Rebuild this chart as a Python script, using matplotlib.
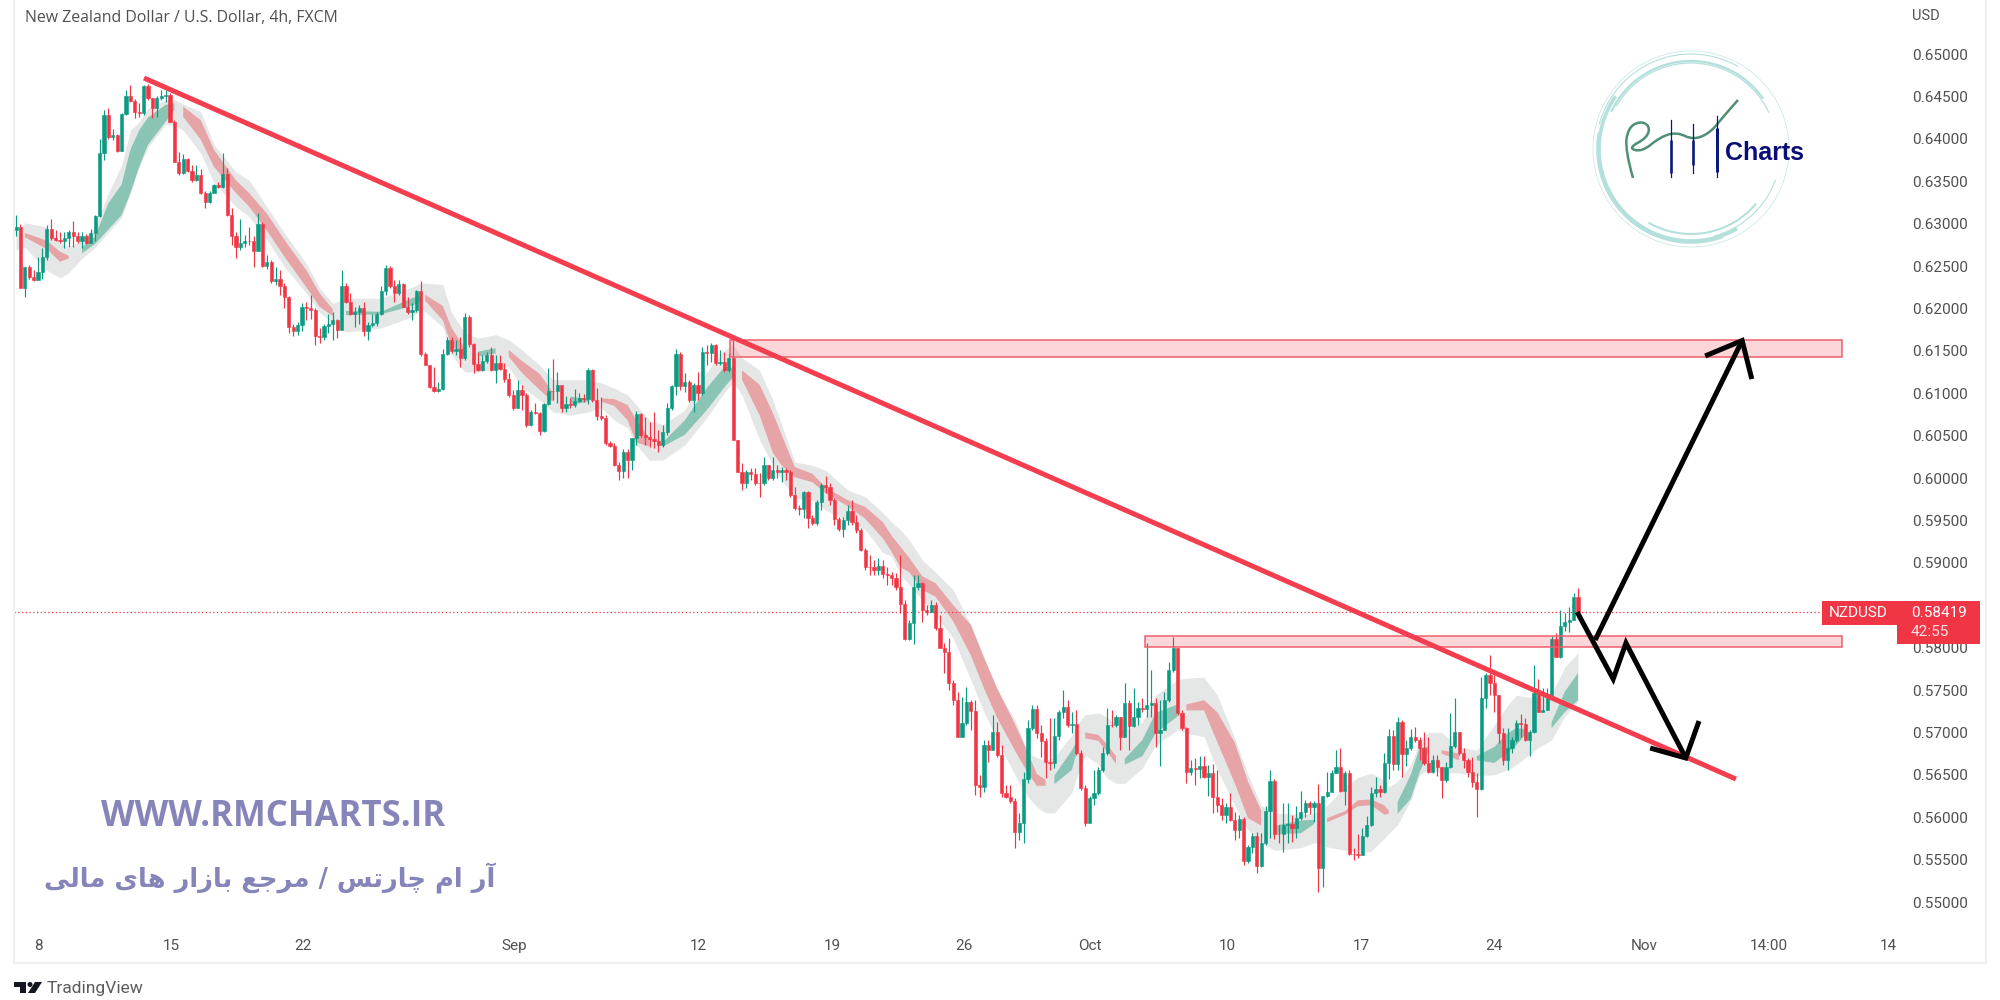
import numpy as np
import matplotlib
matplotlib.use("Agg")
import matplotlib.pyplot as plt
from matplotlib.patches import Rectangle, Arc, Polygon, PathPatch
from matplotlib.path import Path

# fiyatlar pip cinsinden (0.6296 -> 6296), 4 saatlik barlar
close_pips = [
    6296,6224,6249,6237,6233,6243,6261,6294,6283,6281, 6280,6283,6290,6285,6279,6285,6277,6289,6309,6383,
    6428,6402,6405,6386,6429,6451,6445,6432,6430,6462, 6448,6436,6448,6450,6452,6420,6373,6360,6376,6362,
    6351,6357,6336,6325,6336,6345,6343,6359,6310,6285, 6273,6277,6280,6279,6268,6300,6250,6255,6232,6235,
    6226,6214,6178,6173,6180,6202,6201,6198,6167,6166, 6179,6182,6186,6175,6226,6208,6194,6196,6200,6173,
    6180,6183,6194,6221,6248,6226,6218,6229,6202,6196, 6198,6221,6146,6133,6107,6103,6105,6146,6163,6150,
    6152,6142,6190,6158,6134,6127,6138,6145,6127,6136, 6129,6117,6098,6083,6104,6098,6063,6078,6077,6055,
    6087,6103,6103,6110,6083,6087,6086,6091,6094,6093, 6127,6092,6073,6071,6041,6038,6015,6008,6031,6021,
    6047,6076,6051,6048,6046,6044,6039,6054,6083,6108, 6146,6108,6113,6092,6110,6100,6149,6147,6157,6136,
    6137,6127,6142,6045,6007,5994,6007,6005,5994,5994, 6015,6000,6009,6007,6009,6007,5980,5965,5963,5983,
    5953,5947,5972,5992,5989,5974,5952,5940,5950,5961, 5948,5939,5915,5895,5895,5892,5896,5887,5886,5882,
    5871,5851,5810,5829,5871,5876,5844,5842,5850,5823, 5800,5795,5758,5738,5695,5711,5736,5725,5638,5636,
    5685,5679,5700,5673,5629,5624,5619,5583,5593,5645, 5705,5728,5699,5690,5665,5664,5696,5724,5730,5709,
    5710,5676,5635,5593,5623,5629,5656,5676,5709,5709, 5718,5695,5735,5708,5718,5729,5728,5732,5735,5699,
    5703,5738,5774,5800,5723,5705,5653,5658,5657,5660, 5647,5652,5624,5614,5603,5612,5597,5585,5598,5548,
    5565,5578,5542,5570,5607,5643,5580,5580,5591,5592, 5587,5599,5606,5617,5612,5617,5540,5625,5630,5652,
    5659,5631,5652,5557,5557,5555,5578,5591,5629,5633, 5630,5664,5696,5663,5712,5675,5682,5695,5691,5682,
    5664,5653,5667,5659,5644,5659,5684,5701,5676,5667, 5653,5642,5633,5741,5768,5758,5744,5699,5667,5682,
    5691,5711,5710,5691,5701,5747,5724,5727,5744,5810, 5789,5826,5830,5833,5860,5842,
]
high_pips = [
    6310,6300,6249,6251,6245,6261,6271,6298,6305,6292, 6290,6290,6293,6303,6290,6290,6288,6294,6310,6400,
    6434,6436,6412,6406,6430,6457,6463,6447,6442,6463, 6465,6448,6450,6457,6457,6454,6422,6385,6382,6377,
    6369,6369,6364,6338,6338,6347,6349,6383,6365,6318, 6290,6306,6286,6296,6285,6312,6302,6263,6257,6249,
    6245,6230,6215,6182,6184,6206,6208,6216,6200,6177, 6182,6194,6196,6188,6245,6230,6218,6202,6204,6208,
    6184,6194,6196,6226,6251,6250,6233,6233,6230,6214, 6206,6222,6232,6149,6133,6131,6113,6152,6166,6166,
    6163,6166,6195,6192,6159,6149,6145,6149,6155,6145, 6145,6136,6124,6104,6116,6110,6100,6080,6089,6078,
    6089,6130,6140,6125,6106,6097,6094,6105,6100,6099, 6130,6129,6106,6096,6074,6044,6041,6019,6034,6034,
    6047,6079,6077,6072,6066,6078,6057,6063,6089,6110, 6152,6149,6124,6116,6112,6125,6155,6157,6159,6158,
    6151,6149,6147,6163,6045,6018,6009,6012,6012,6006, 6025,6015,6025,6015,6013,6012,6009,5989,5968,5985,
    5985,5956,5974,5994,6002,5994,5976,5954,5954,5968, 5974,5956,5941,5917,5909,5903,5906,5903,5895,5889,
    5888,5909,5856,5833,5886,5886,5877,5850,5856,5854, 5838,5806,5811,5762,5748,5742,5754,5738,5738,5650,
    5691,5691,5721,5712,5685,5638,5638,5623,5605,5653, 5715,5732,5732,5709,5693,5717,5717,5726,5750,5738,
    5724,5726,5679,5638,5625,5656,5659,5683,5729,5726, 5721,5718,5758,5738,5752,5736,5741,5805,5774,5741,
    5738,5748,5783,5813,5800,5726,5706,5668,5670,5672, 5672,5661,5663,5656,5623,5617,5629,5606,5603,5600,
    5567,5581,5583,5581,5613,5656,5645,5591,5617,5617, 5603,5613,5631,5620,5619,5619,5639,5625,5653,5656,
    5679,5682,5655,5656,5564,5580,5587,5601,5636,5647, 5638,5676,5704,5703,5718,5715,5691,5704,5706,5695,
    5701,5695,5673,5673,5659,5665,5723,5741,5701,5682, 5670,5671,5652,5765,5770,5791,5768,5744,5705,5705,
    5695,5715,5722,5717,5703,5780,5763,5752,5752,5814, 5817,5844,5841,5848,5864,5870,
]
low_pips = [
    6285,6224,6214,6235,6232,6233,6235,6257,6281,6279, 6277,6271,6273,6273,6277,6271,6276,6277,6279,6308,
    6375,6400,6399,6385,6386,6428,6444,6424,6426,6428, 6446,6424,6426,6446,6444,6420,6373,6357,6358,6361,
    6349,6350,6335,6318,6324,6336,6342,6342,6309,6275, 6259,6269,6273,6275,6249,6268,6249,6247,6230,6228,
    6216,6200,6171,6167,6169,6173,6186,6187,6157,6159, 6163,6171,6163,6165,6175,6206,6192,6178,6182,6167,
    6163,6178,6179,6192,6216,6224,6208,6216,6202,6194, 6186,6196,6144,6133,6106,6101,6101,6104,6145,6147,
    6145,6131,6139,6155,6124,6126,6126,6136,6126,6112, 6127,6113,6096,6080,6083,6080,6060,6061,6076,6051,
    6054,6086,6092,6089,6078,6078,6083,6084,6090,6090, 6087,6090,6068,6068,6039,6037,6014,5998,6000,6000,
    6009,6039,6048,6039,6037,6035,6031,6037,6051,6080, 6098,6104,6101,6090,6078,6092,6098,6133,6137,6133,
    6133,6125,6125,6045,6007,5986,5988,5998,5992,5978, 5992,5998,5998,6000,5995,5998,5978,5962,5956,5953,
    5941,5945,5945,5962,5982,5968,5945,5938,5931,5945, 5945,5935,5914,5892,5886,5886,5886,5882,5874,5874,
    5868,5841,5809,5809,5804,5868,5830,5838,5842,5821, 5800,5770,5750,5732,5695,5695,5709,5703,5626,5624,
    5630,5665,5679,5671,5624,5623,5617,5564,5573,5570, 5640,5703,5693,5671,5646,5656,5658,5691,5717,5706,
    5699,5673,5632,5590,5594,5614,5626,5653,5673,5706, 5706,5679,5695,5679,5706,5709,5724,5718,5718,5683,
    5660,5703,5736,5771,5721,5703,5640,5650,5638,5646, 5646,5625,5605,5606,5597,5593,5596,5573,5575,5544,
    5546,5558,5534,5541,5567,5575,5574,5570,5559,5570, 5571,5575,5597,5600,5604,5594,5512,5518,5624,5630,
    5652,5630,5614,5555,5550,5552,5555,5577,5590,5624, 5624,5629,5645,5656,5656,5647,5660,5679,5689,5667,
    5662,5652,5652,5649,5623,5642,5658,5682,5673,5658, 5647,5636,5600,5632,5729,5744,5724,5688,5662,5656,
    5676,5689,5695,5690,5672,5699,5724,5724,5727,5743, 5789,5788,5820,5818,5833,5842,
]
first_open_pip = 6293
last_price = 0.58419

# gösterge bandı: bar no, iç bant üst/alt, gri bant üst/alt, yön (1 yeşil, 0 kırmızı)
band_bar = [0,2,7,10,12,15,18,21,24,26,28,30,34,36,38,42,45,50,53,57,61,66,69,72,75,83,90,92,93,97,99,102,105,109,112,115,
            119,122,126,130,133,136,139,141,144,147,152,157,161,163,165,169,172,174,177,181,184,189,193,197,199,201,203,206,
            209,213,217,220,223,227,230,232,234,236,240,241,243,246,248,250,252,256,259,264,266,270,273,277,280,283,286,292,
            295,298,302,305,308,311,312,314,317,319,321,324,328,332,336,339,341,343,346,349,352,355]
ribbon_hi = [6282,6289,6280,6267,6262,6272,6285,6324,6346,6387,6410,6425,6440,6442,6438,6422,6387,6351,6336,6312,6281,6245,6218,6199,6197,6196,6212,6215,6216,6203,6177,6153,6149,6153,6151,6138,
             6123,6101,6096,6093,6094,6093,6086,6068,6047,6042,6068,6106,6131,6130,6127,6110,6077,6051,6013,6005,5989,5974,5966,5948,5932,5919,5906,5884,
             5876,5850,5827,5788,5752,5710,5676,5651,5644,5649,5679,5689,5700,5697,5686,5672,5669,5691,5723,5733,5733,5738,5724,5688,5642,5608,5590,5596,
             5597,5599,5607,5620,5621,5614,5608,5618,5650,5682,5683,5679,5675,5672,5683,5699,5705,5704,5708,5712,5748,5770]
ribbon_lo = [6275,6284,6270,6255,6259,6265,6276,6293,6310,6336,6367,6393,6420,6434,6426,6399,6367,6336,6320,6292,6261,6225,6202,6191,6192,6193,6203,6208,6209,6186,6156,6144,6143,6147,6143,6124,
             6104,6090,6086,6090,6090,6085,6068,6042,6037,6037,6051,6080,6107,6119,6116,6074,6030,6015,6001,5995,5982,5967,5952,5929,5913,5895,5889,5868,
             5860,5831,5791,5752,5717,5679,5652,5637,5637,5639,5656,5675,5693,5690,5677,5663,5662,5672,5699,5719,5726,5726,5689,5640,5599,5590,5580,5581,
             5592,5594,5603,5613,5614,5603,5604,5604,5622,5653,5676,5675,5667,5667,5664,5676,5685,5697,5703,5705,5724,5738]
grey_hi = [6287,6301,6296,6278,6272,6281,6296,6336,6369,6410,6420,6436,6446,6446,6441,6432,6393,6361,6351,6320,6289,6253,6224,6206,6212,6212,6225,6230,6230,6228,6195,6171,6165,6169,6163,6151,
           6133,6116,6116,6116,6112,6106,6098,6086,6068,6063,6080,6125,6151,6157,6142,6127,6092,6063,6019,6015,6009,5986,5978,5959,5948,5939,5927,5903,
           5889,5868,5827,5789,5750,5715,5676,5670,5667,5671,5697,5709,5721,5723,5718,5709,5703,5712,5744,5762,5764,5765,5744,5693,5650,5614,5605,5603,
           5605,5614,5636,5647,5652,5644,5636,5642,5662,5689,5700,5700,5683,5679,5709,5732,5744,5742,5741,5746,5777,5794]
grey_lo = [6269,6272,6245,6236,6242,6259,6272,6290,6307,6336,6367,6390,6417,6416,6410,6383,6348,6320,6308,6281,6249,6218,6195,6183,6172,6177,6190,6198,6196,6178,6145,6125,6125,6129,6131,6107,
           6092,6078,6074,6078,6083,6068,6059,6039,6021,6021,6039,6071,6101,6113,6098,6045,6015,5998,5976,5974,5962,5950,5939,5912,5908,5886,5874,5856,
           5838,5811,5762,5724,5691,5650,5624,5612,5605,5605,5629,5646,5673,5662,5646,5640,5640,5658,5685,5703,5699,5695,5656,5614,5585,5570,5561,5564,
           5570,5565,5561,5558,5560,5575,5581,5591,5620,5650,5656,5653,5652,5649,5650,5656,5662,5670,5682,5691,5719,5736]
band_up = [1,0,0,0,0,1,1,1,1,1,1,1,1,1,0,0,0,0,0,0,0,0,0,0,1,1,1,1,0,0,0,0,1,1,0,0,
           0,0,1,1,0,0,0,0,0,1,1,1,1,1,0,0,0,0,0,0,0,0,0,0,0,0,0,0,
           0,0,0,0,0,0,0,0,0,1,1,1,0,0,0,0,1,1,1,1,0,0,0,0,0,0,1,1,
           1,0,0,0,0,0,0,1,1,1,1,0,0,1,1,1,1,1,0,1,1,1]

# trend çizgisi, bölgeler, oklar (bar no / fiyat)
trend_bars = [29.1, 390.9]
trend_prices = [0.64717, 0.5645]
zone_left = [162.3, 256.6]
zone_right = [415.0, 415.0]
zone_top = [0.61627, 0.58137]
zone_bottom = [0.61427, 0.58007]
up_arrow_bars = [358.9, 392.3]
up_arrow_prices = [0.58090, 0.61621]
up_head_bars = [383.9, 392.3, 394.5]
up_head_prices = [0.61439, 0.61621, 0.61167]
down_path_bars = [354.8, 363.0, 365.9, 379.5]
down_path_prices = [0.58420, 0.57630, 0.58054, 0.56698]
down_head_bars = [371.4, 379.5, 382.5]
down_head_prices = [0.56816, 0.56698, 0.57134]

# eksen yazıları (0.58500 etiketin altında kaldığı için yok)
y_ticks = [0.55, 0.555, 0.56, 0.565, 0.57, 0.575, 0.58, 0.59, 0.595, 0.60,
           0.605, 0.61, 0.615, 0.62, 0.625, 0.63, 0.635, 0.64, 0.645, 0.65]
x_tick_bars = [5, 35.2, 65.2, 113.2, 155.2, 185.5, 215.5, 244, 275.2, 305.7, 336, 370, 398.4, 425.5]
x_tick_labels = ["8", "15", "22", "Sep", "12", "19", "26", "Oct", "10", "17", "24", "Nov", "14:00", "14"]

GREEN = "#0c9a82"
RED = "#f03545"
TEXT = "#505050"
FONT = "Roboto"

closes = np.array(close_pips) / 10000
highs = np.array(high_pips) / 10000
lows = np.array(low_pips) / 10000
opens = np.concatenate([[first_open_pip / 10000], closes[:-1]])
bars = np.arange(len(closes))
up = closes > opens
colors = [GREEN if u else RED for u in up]

fig = plt.figure(figsize=(20, 10), dpi=100, facecolor="white")
ax = fig.add_axes([14 / 2000, 1 - 935 / 1000, 1886 / 2000, 935 / 1000])
ax.set_xlim(-0.45, 428.18)
ax.set_ylim(0.54611, 0.65637)
for s in ax.spines.values():
    s.set_visible(False)

# gri bant ve iç bant
bx = np.array(band_bar)
mask = np.array(band_up) == 1
ax.fill_between(bx, np.array(grey_lo) / 10000, np.array(grey_hi) / 10000, color="#e5e7e7", lw=0, zorder=1)
ax.fill_between(bx, np.array(ribbon_lo) / 10000, np.array(ribbon_hi) / 10000, where=mask,
                color="#8ac4b4", lw=0, zorder=2)
ax.fill_between(bx, np.array(ribbon_lo) / 10000, np.array(ribbon_hi) / 10000, where=~mask,
                color="#e6a4a6", lw=0, zorder=2)

# mumlar
ax.vlines(bars, lows, highs, colors=colors, linewidth=0.85, zorder=3)
ax.bar(bars, np.abs(closes - opens), bottom=np.minimum(opens, closes), width=0.72,
       color=colors, edgecolor=colors, linewidth=0.4, zorder=4)

# son fiyat çizgisi
ax.hlines(last_price, -0.45, 410.5, colors=RED, linestyles=(0, (1, 2)), linewidth=0.9, zorder=3)

# bölgeler
for i in range(len(zone_left)):
    ax.add_patch(Rectangle((zone_left[i], zone_bottom[i]), zone_right[i] - zone_left[i],
                           zone_top[i] - zone_bottom[i], facecolor=(0.95, 0.2, 0.27, 0.2),
                           edgecolor="#ee5f6c", linewidth=1.1, zorder=5))

ax.plot(trend_bars, trend_prices, color="#f23e4e", lw=3.6, solid_capstyle="butt", zorder=6)

for xs, ys in [(up_arrow_bars, up_arrow_prices), (up_head_bars, up_head_prices),
               (down_path_bars, down_path_prices), (down_head_bars, down_head_prices)]:
    ax.plot(xs, ys, color="black", lw=3.6, solid_capstyle="butt", solid_joinstyle="miter", zorder=7)

ax.yaxis.tick_right()
ax.set_yticks(y_ticks)
ax.set_yticklabels(["%.5f" % v for v in y_ticks], fontsize=11, color=TEXT, family=FONT)
ax.set_xticks(x_tick_bars)
ax.set_xticklabels(x_tick_labels, fontsize=11, color=TEXT, family=FONT)
ax.tick_params(axis="y", length=0, pad=8.5)
ax.tick_params(axis="x", length=0, pad=3)

# üst katman: piksel koordinatlı çerçeve, logo, yazılar
ov = fig.add_axes([0, 0, 1, 1], zorder=10)
ov.set_xlim(0, 2000)
ov.set_ylim(1000, 0)
ov.axis("off")

ov.plot([14, 14, 1986, 1986], [0, 963, 963, 0], color="#efefef", lw=1.6, zorder=1)

ov.text(25, 18, "New Zealand Dollar / U.S. Dollar, 4h, FXCM", fontsize=11.4, color=TEXT,
        family="Open Sans", va="center")
ov.text(1912, 16, "USD", fontsize=10.5, color=TEXT, family=FONT, va="center")

# fiyat etiketi
ov.add_patch(Rectangle((1822, 601), 158, 24, color=RED, lw=0, zorder=3))
ov.add_patch(Rectangle((1897, 625), 83, 19, color=RED, lw=0, zorder=3))
ov.text(1829, 613, "NZDUSD", fontsize=11, color="white", family=FONT, va="center", zorder=4)
ov.text(1911, 613, "0.58419", fontsize=11, color="white", family=FONT, va="center", zorder=4)
ov.text(1911, 632, "42:55", fontsize=11, color="#fde3e5", family=FONT, va="center", zorder=4)

# logo
teal = "#b4e0db"
for r, t1, t2, w in [(98, 0, 360, 0.4), (95, 195, 300, 0.8), (92, 60, 215, 2.6), (94, 70, 190, 1.2),
                     (88, 205, 325, 1.6), (86, 210, 335, 0.9), (85, 40, 120, 1.5), (90, 20, 75, 0.8)]:
    ov.add_patch(Arc((1691, 149), 2 * r, 2 * r, theta1=t1, theta2=t2, color=teal, lw=w))
# el yazısı R ve yükselen çizgi, orta noktalardan yumuşatılmış
rx = [1633, 1625, 1628, 1640, 1650, 1647, 1628, 1642, 1660, 1677, 1693, 1710, 1723, 1738]
ry = [178, 150, 128, 121, 126, 138, 148, 152, 137, 132, 140, 133, 117, 100]
verts = [(rx[0], ry[0])]
codes = [Path.MOVETO]
for i in range(1, len(rx) - 1):
    verts += [(rx[i], ry[i]), ((rx[i] + rx[i + 1]) / 2, (ry[i] + ry[i + 1]) / 2)]
    codes += [Path.CURVE3, Path.CURVE3]
verts.append((rx[-1], ry[-1]))
codes.append(Path.LINETO)
ov.add_patch(PathPatch(Path(verts, codes), facecolor="none", edgecolor="#4f8f74", lw=1.8))
for cx, top, bot, b1, b2, wd in [(1671, 120, 177, 140, 173, 2.6), (1693, 124, 173, 140, 165, 2.6), (1717, 116, 177, 128, 172, 3.0)]:
    ov.plot([cx, cx], [top, bot], color="#0b1a7a", lw=0.9)
    ov.plot([cx, cx], [b1, b2], color="#0b1a7a", lw=wd / 1.39, solid_capstyle="butt")
ov.text(1725, 153, "Charts", fontsize=18, fontweight="bold", color="#0a0f78",
        family="Liberation Sans", va="center", ha="left")

# filigran
ov.text(273, 817, "WWW.RMCHARTS.IR", fontsize=25, fontweight="bold", color="#8585b9",
        family="Open Sans", ha="center", va="center")
# آر ام چارتس / مرجع بازار های مالی (sunum biçimleri, soldan sağa sıra)
persian = ("\uFE81\uFEAD \uFE8D\uFEE1 \uFB7C\uFE8E\uFEAD\uFE97\uFEB2 / "
           "\uFEE3\uFEAE\uFE9F\uFECA \uFE91\uFE8E\uFEAF\uFE8D\uFEAD "
           "\uFEEB\uFE8E\uFBFC \uFEE3\uFE8E\uFEDF\uFBFD")[::-1]
ov.text(270, 878, persian, fontsize=18.5, fontweight="bold", color="#8585b9",
        family="DejaVu Sans", ha="center", va="center")

# TradingView
ov.add_patch(Polygon([(14, 982), (26, 982), (26, 993), (20, 993), (20, 987), (14, 987)], color="#131722", lw=0))
ov.add_patch(Polygon([(35, 982), (42, 982), (35, 993), (28, 993)], color="#131722", lw=0))
ov.add_patch(plt.Circle((30, 984.5), 2.5, color="#131722", lw=0))
ov.text(47, 989, "TradingView", fontsize=12.5, color="#5c5c5c", family=FONT, va="center")

fig.savefig("out.png", dpi=100)
plt.close(fig)
